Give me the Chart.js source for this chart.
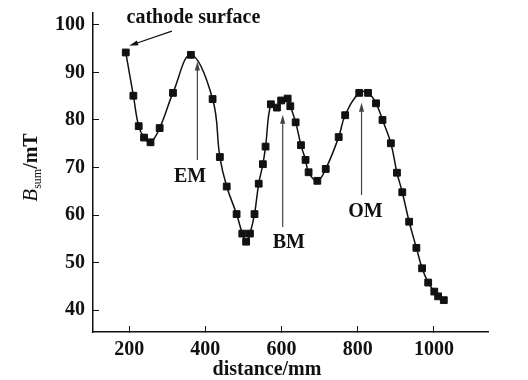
<!DOCTYPE html>
<html><head><meta charset="utf-8">
<script src="https://cdn.jsdelivr.net/npm/chart.js@4/dist/chart.umd.min.js"></script>
<style>html,body{margin:0;padding:0;background:#fff}#wrap{width:528px;height:380px}</style>
</head><body><div id="wrap"><canvas id="c" width="528" height="380"></canvas></div>
<script>
// ---- data ----
const distance = [191,211,225,239,256,280,315,362,419,438,456,482,497,507,517,529,540,551,558,572,588,599,616,623,637,651,663,671,694,716,750,767,804,827,848,865,887,903,917,935,954,969,985,1001,1011,1026];
const bsum     = [94.2,85.1,78.7,76.3,75.3,78.3,85.7,93.7,84.4,72.2,66.0,60.2,56.1,54.4,56.1,60.2,66.6,70.7,74.4,83.3,82.6,84.1,84.5,82.9,79.5,74.7,71.6,69.0,67.2,69.7,76.4,81.0,85.7,85.7,83.5,80.0,75.1,68.9,64.8,58.6,53.1,48.8,45.8,43.9,42.9,42.1];
const xTickValues = [200,400,600,800,1000];
const yTickValues = [40,50,60,70,80,90,100];
const xTitle = 'distance/mm';
const yTitleMain = 'B', yTitleSub = 'sum', yTitleUnit = '/mT';
// annotations: label, text position (data), arrow tail -> head (data)
const annLabels  = ['cathode surface','EM','BM','OM'];
const annTextX   = [193, 360, 619, 820];
const annTextY   = [101.4, 68.1, 54.2, 60.7];
const annTailX   = [312, 379, 603, 810];
const annTailY   = [98.7, 71.6, 57.5, 64.2];
const annHeadX   = [200, 379, 603, 810];
const annHeadY   = [95.6, 92.3, 81.1, 83.6];

const SERIF = '"Liberation Serif","Times New Roman",serif';

const points = distance.map((d,i)=>({x:d,y:bsum[i]}));

const annotPlugin = {
  id:'annot',
  afterDraw(chart){
    const {ctx, scales:{x,y}} = chart;
    ctx.save();
    function arrow(x1,y1,x2,y2,color){
      const ang = Math.atan2(y2-y1,x2-x1);
      const L=9, W=2.6;
      ctx.strokeStyle=color; ctx.fillStyle=color; ctx.lineWidth=1.2;
      ctx.beginPath(); ctx.moveTo(x1,y1);
      ctx.lineTo(x2-Math.cos(ang)*L*0.6, y2-Math.sin(ang)*L*0.6); ctx.stroke();
      ctx.beginPath();
      ctx.moveTo(x2,y2);
      ctx.lineTo(x2-Math.cos(ang)*L - Math.sin(ang)*W, y2-Math.sin(ang)*L + Math.cos(ang)*W);
      ctx.lineTo(x2-Math.cos(ang)*L + Math.sin(ang)*W, y2-Math.sin(ang)*L - Math.cos(ang)*W);
      ctx.closePath(); ctx.fill();
    }
    for(let i=0;i<annLabels.length;i++){
      arrow(x.getPixelForValue(annTailX[i]), y.getPixelForValue(annTailY[i]),
            x.getPixelForValue(annHeadX[i]), y.getPixelForValue(annHeadY[i]), i===0?'#111':'#444');
      ctx.fillStyle='#111';
      ctx.font = 'bold 20px '+SERIF;
      ctx.textBaseline='middle';
      ctx.textAlign = i===0 ? 'left' : 'center';
      ctx.fillText(annLabels[i], x.getPixelForValue(annTextX[i]), y.getPixelForValue(annTextY[i]));
    }
    // x-axis title (centred under the ticks as in the reference)
    ctx.font='bold 20px '+SERIF;
    ctx.textAlign='center'; ctx.textBaseline='middle'; ctx.fillStyle='#111';
    ctx.fillText(xTitle, 267, 370);
    // y-axis title with subscript
    ctx.translate(36.5, 167.5);
    ctx.rotate(-Math.PI/2);
    ctx.fillStyle='#111';
    ctx.textBaseline='alphabetic';
    ctx.textAlign='left';
    const f1='italic 21px '+SERIF, f2='12px '+SERIF, f3='bold 20px '+SERIF;
    ctx.font=f1; const w1=ctx.measureText(yTitleMain).width;
    ctx.font=f2; const w2=ctx.measureText(yTitleSub).width;
    ctx.font=f3; const w3=ctx.measureText(yTitleUnit).width;
    let sx = -(w1+w2+w3)/2;
    ctx.font=f1; ctx.fillText(yTitleMain, sx, 0); sx+=w1;
    ctx.font=f2; ctx.fillText(yTitleSub, sx, 4); sx+=w2;
    ctx.font=f3; ctx.fillText(yTitleUnit, sx, 0);
    ctx.restore();
  }
};

new Chart(document.getElementById('c'), {
  type:'line',
  data:{datasets:[{
    data:points,
    borderColor:'#111', borderWidth:1.5,
    pointStyle:'rect', pointRadius:4.8, pointBackgroundColor:'#111', pointBorderColor:'#111', pointBorderWidth:1,
    tension:0.4, fill:false
  }]},
  options:{
    responsive:false, animation:false, devicePixelRatio:1,
    layout:{padding:{left:0,right:40,top:13,bottom:0}},
    plugins:{legend:{display:false}, tooltip:{enabled:false}},
    scales:{
      x:{type:'linear', min:105, max:1142,
        afterBuildTicks(s){ s.ticks = xTickValues.map(v=>({value:v})); },
        afterFit(s){ s.height = 48; s.paddingLeft = 0; s.paddingRight = 0; },
        grid:{drawOnChartArea:false, drawTicks:true, tickLength:-6, color:'#111', lineWidth:1},
        border:{display:true, color:'#111', width:1.5},
        ticks:{padding:11.6, color:'#111', font:{family:SERIF, size:20, weight:'bold'}, maxRotation:0, callback:v=>String(v)},
        title:{display:false}
      },
      y:{type:'linear', min:35.4, max:102.5,
        afterBuildTicks(s){ s.ticks = yTickValues.map(v=>({value:v})); },
        afterFit(s){ s.width = 93; s.paddingTop = 0; s.paddingBottom = 0; },
        grid:{drawOnChartArea:false, drawTicks:true, tickLength:-6, color:'#111', lineWidth:1},
        border:{display:true, color:'#111', width:1.5},
        ticks:{padding:14, color:'#111', font:{family:SERIF, size:20, weight:'bold'}, callback:v=>String(v)}
      }
    }
  },
  plugins:[annotPlugin]
});
</script></body></html>
